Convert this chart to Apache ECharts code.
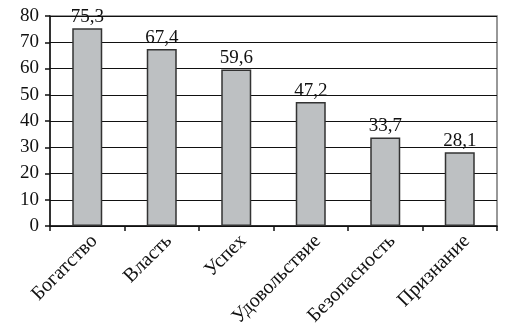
<!DOCTYPE html>
<html><head><meta charset="utf-8">
<script src="https://cdn.jsdelivr.net/npm/echarts@6/dist/echarts.min.js"></script>
<style>html,body{margin:0;padding:0;background:#fff}#c{width:514px;height:333px}</style>
</head><body><div id="c"></div>
<script>
const categories = ['Богатство','Власть','Успех','Удовольствие','Безопасность','Признание'];
const values = [75.3, 67.4, 59.6, 47.2, 33.7, 28.1];
const yTicks = {min: 0, max: 80, interval: 10};
const font = 'Liberation Serif';
const chart = echarts.init(document.getElementById('c'), null, {renderer: 'canvas'});
chart.setOption({
  animation: false,
  grid: {left: 50, right: 17, top: 16, bottom: 107, show: true, borderColor: '#777', borderWidth: 1.5, backgroundColor: 'transparent'},
  xAxis: {
    type: 'category', data: categories,
    axisLine: {lineStyle: {color: '#111', width: 1.5}},
    axisTick: {show: true, alignWithLabel: false, length: 5, lineStyle: {color: '#111', width: 1.5}},
    axisLabel: {rotate: 45, color: '#111', fontFamily: font, fontSize: 20, margin: 5, interval: 0, verticalAlign: 'top'}
  },
  yAxis: {
    type: 'value', min: yTicks.min, max: yTicks.max, interval: yTicks.interval,
    axisLine: {show: true, lineStyle: {color: '#111', width: 1.5}},
    axisTick: {show: true, length: 5, lineStyle: {color: '#111', width: 1.5}},
    axisLabel: {color: '#111', fontFamily: font, fontSize: 19, margin: 11},
    splitLine: {lineStyle: {color: '#111', width: 1}}
  },
  series: [{
    type: 'bar', data: values, barWidth: 30,
    itemStyle: {color: '#bdc0c2', borderColor: '#333', borderWidth: 1.5},
    label: {show: true, position: 'top', distance: 2, color: '#111', fontFamily: font, fontSize: 19,
      formatter: p => String(p.value).replace('.', ',')}
  }]
});
</script></body></html>
